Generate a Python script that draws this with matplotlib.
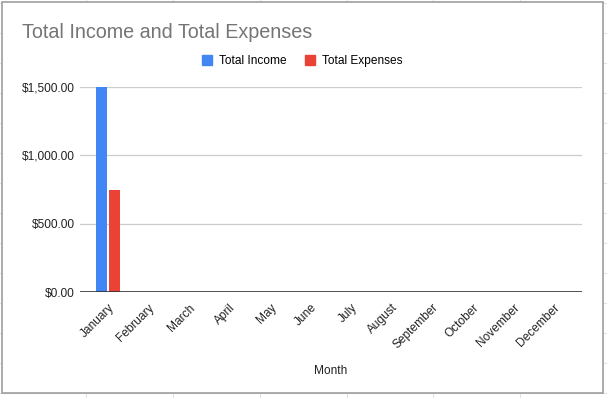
import matplotlib
matplotlib.use("Agg")
import matplotlib.pyplot as plt
import numpy as np
from matplotlib.lines import Line2D
from matplotlib.patches import Rectangle

MONTHS = ["January", "February", "March", "April", "May", "June", "July",
          "August", "September", "October", "November", "December"]
TOTAL_INCOME = [1500, 0, 0, 0, 0, 0, 0, 0, 0, 0, 0, 0]
TOTAL_EXPENSES = [750, 0, 0, 0, 0, 0, 0, 0, 0, 0, 0, 0]
Y_TICKS = [0, 500, 1000, 1500]

BLUE = "#4285F4"
RED = "#EA4335"
W, H = 607, 398

plt.rcParams["font.family"] = ["Liberation Sans", "DejaVu Sans"]

fig = plt.figure(figsize=(W / 100, H / 100), dpi=100)


def fx(px):
    return px / W


def fy(py):
    return 1 - py / H


# faint spreadsheet cell lines behind the chart card
for x in [86, 173, 260, 347, 433, 520]:
    fig.add_artist(Line2D([fx(x), fx(x)], [0, 1], color="#e2e2e2", lw=0.8,
                          zorder=0))
for y in range(3, H, 30):
    fig.add_artist(Line2D([0, 1], [fy(y), fy(y)], color="#e2e2e2", lw=0.8,
                          zorder=0))

# chart card
fig.add_artist(Rectangle((fx(2), fy(393)), fx(601), 391 / H, facecolor="white",
                         edgecolor="#9e9e9e", lw=1.2, zorder=1))

ax = fig.add_axes([fx(80), fy(292), fx(502), (292 - 87) / H], zorder=2)
ax.patch.set_alpha(0)

x = np.arange(len(MONTHS))
bw = 0.27
ax.bar(x - 0.165, TOTAL_INCOME, bw, color=BLUE, zorder=3, clip_on=False)
ax.bar(x + 0.165, TOTAL_EXPENSES, bw, color=RED, zorder=3, clip_on=False)

ax.set_xlim(-0.69, 11.7)
ax.set_ylim(0, 1500)
ax.set_yticks(Y_TICKS)
ax.set_yticklabels([f"${v:,.2f}" for v in Y_TICKS])
ax.set_xticks(x)
ax.set_xticklabels(MONTHS, rotation=45, ha="right", va="top",
                   rotation_mode="anchor")
ax.tick_params(axis="both", length=0, labelsize=8.6, colors="#222222")
ax.tick_params(axis="y", pad=4)
ax.tick_params(axis="x", pad=7)
ax.yaxis.grid(True, color="#cccccc", lw=0.9, zorder=0)
ax.set_axisbelow(True)
for s in ax.spines.values():
    s.set_visible(False)
ax.axhline(0, color="#333333", lw=1.2, zorder=4)

ax.set_xlabel("Month", fontsize=8.6, color="#222222", labelpad=10)

fig.text(fx(22), fy(33), "Total Income and Total Expenses", fontsize=14.2,
         color="#757575", va="center", ha="left", zorder=3)

handles = [Line2D([], [], marker="s", ls="", markersize=7, color=BLUE),
           Line2D([], [], marker="s", ls="", markersize=7, color=RED)]
fig.legend(handles, ["Total Income", "Total Expenses"], loc="center",
           bbox_to_anchor=(fx(302), fy(61)), ncol=2, frameon=False,
           fontsize=8.6, handletextpad=0.5, columnspacing=1.5,
           handlelength=1.0)

fig.savefig("out.png", dpi=100)
